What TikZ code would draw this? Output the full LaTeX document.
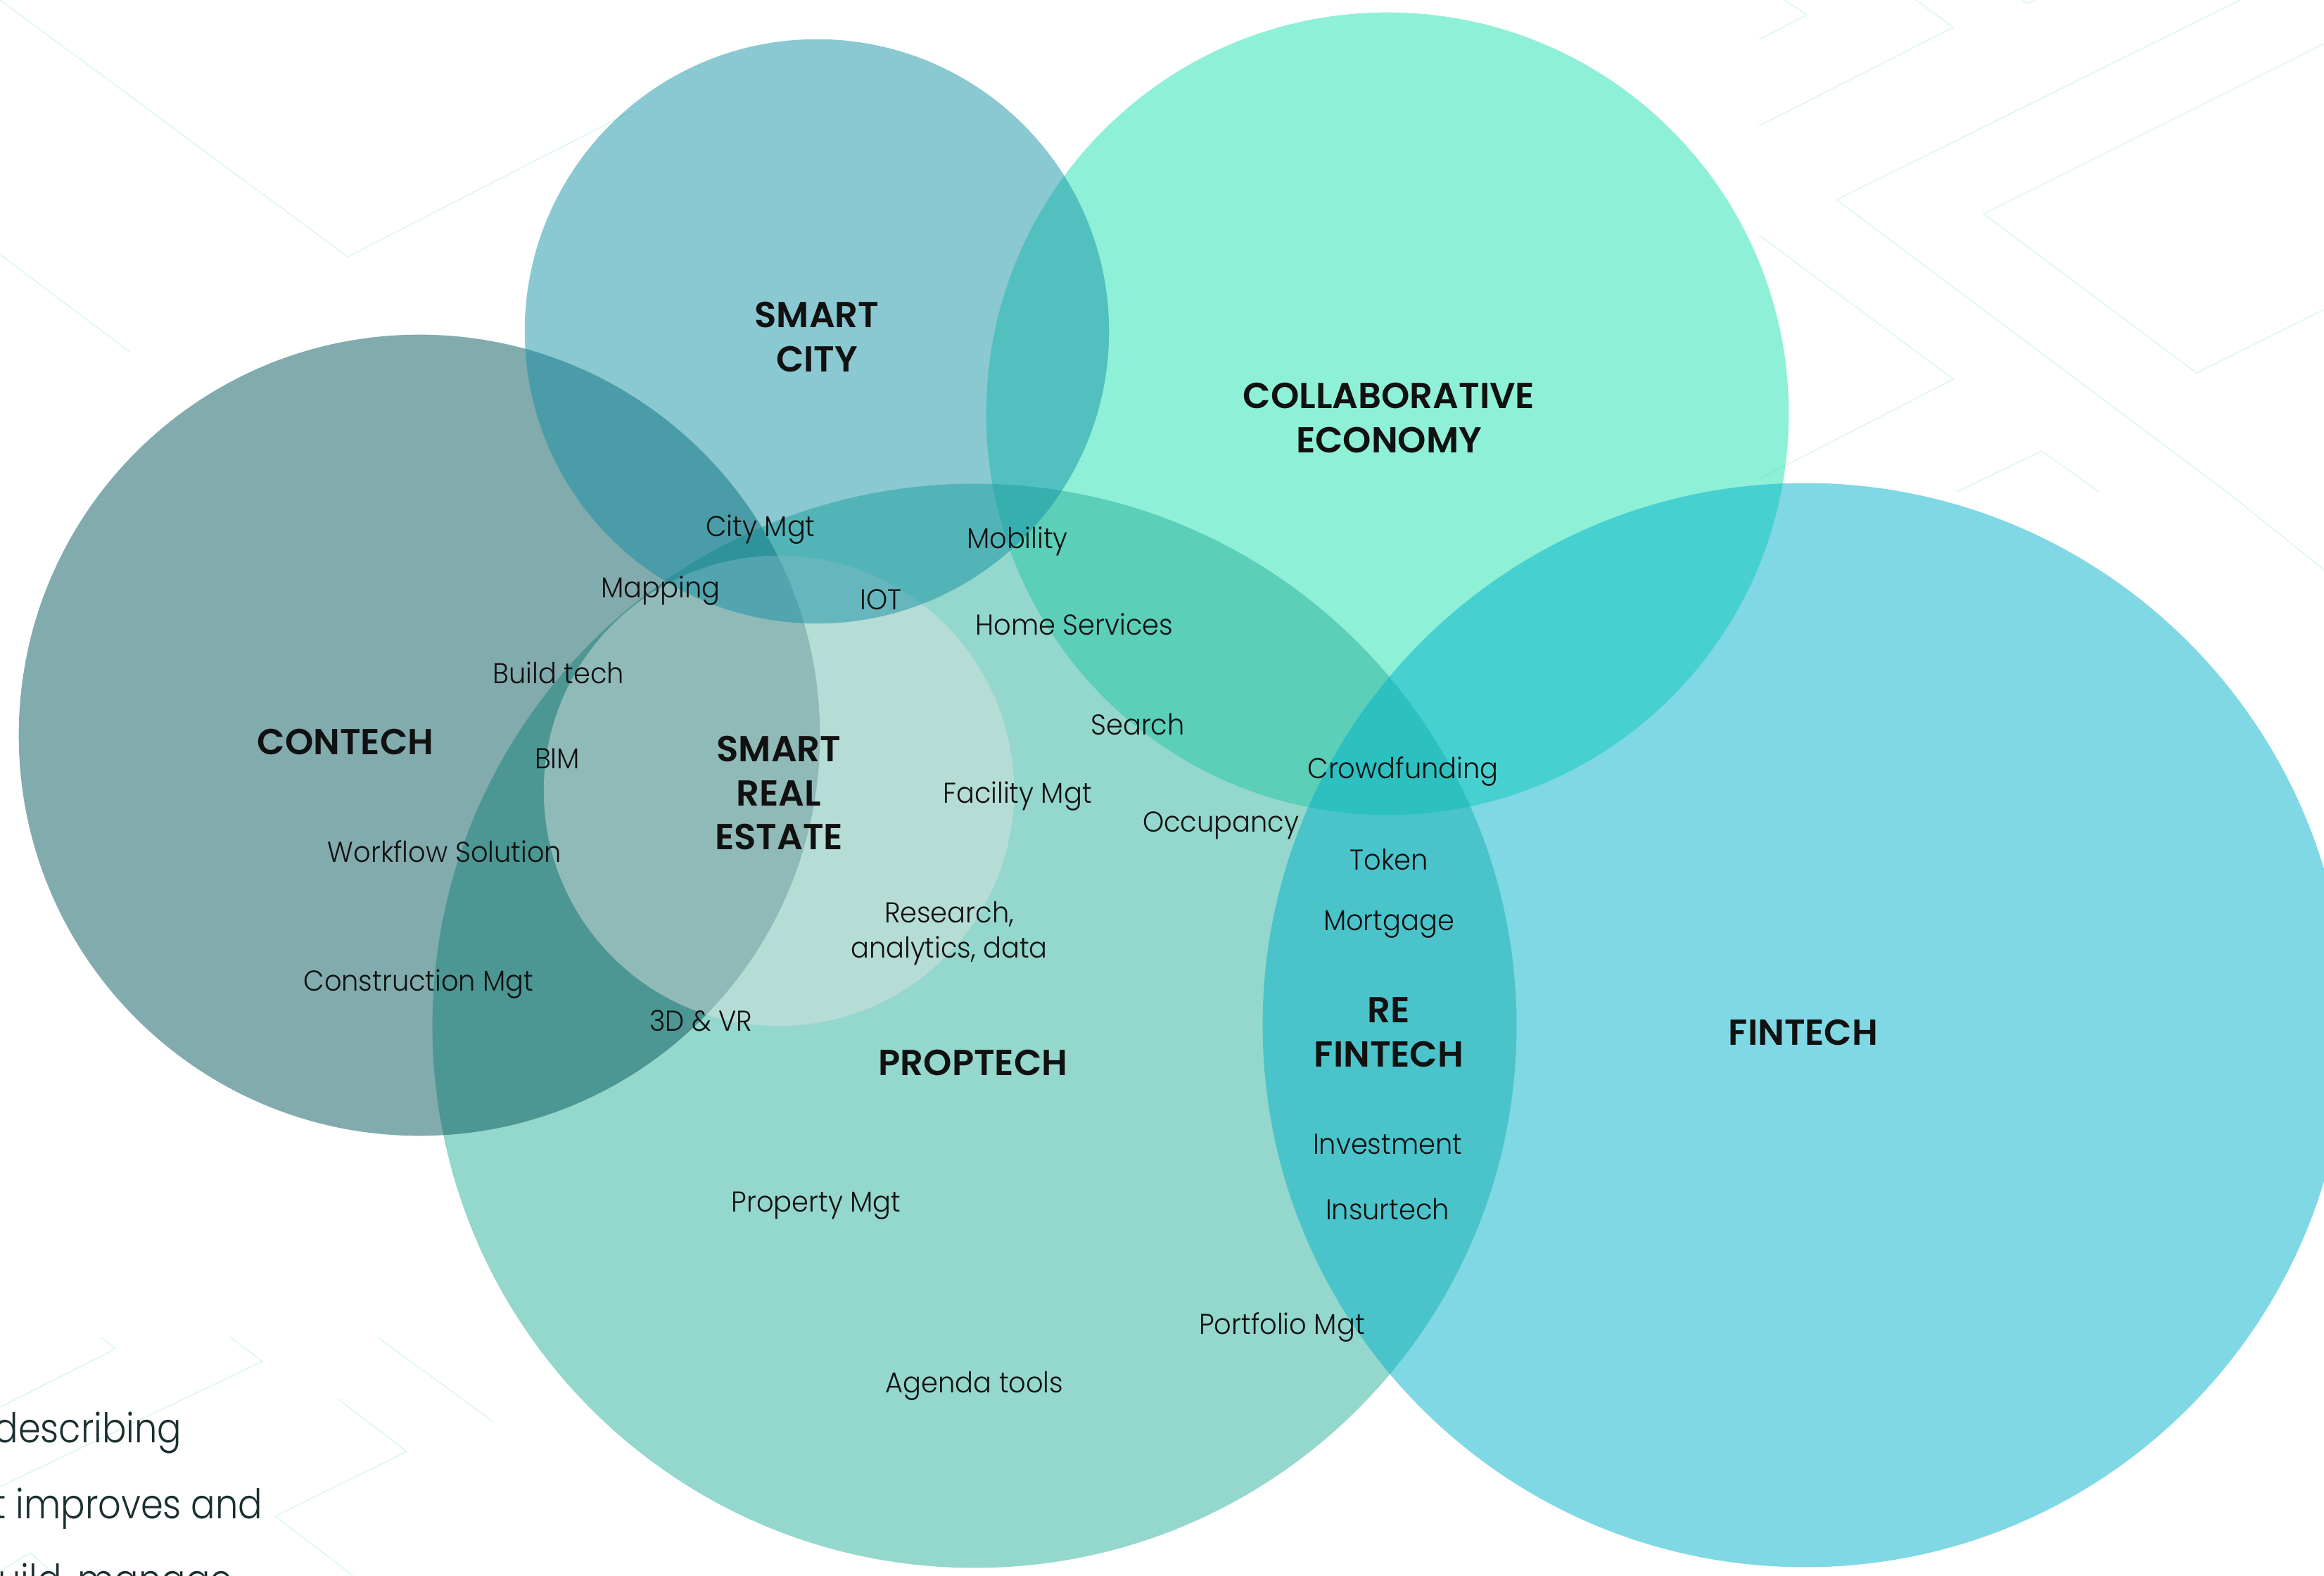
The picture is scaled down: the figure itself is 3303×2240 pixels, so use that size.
\documentclass[tikz,border=0pt]{standalone}
\usepackage{fontspec}
\setmainfont{Poppins}[UprightFont={* Light}, FakeStretch=0.94]
\newfontfamily\headfont{Poppins}[UprightFont={* SemiBold}]
\newfontfamily\bodyfont{Poppins}[UprightFont={* Light}, FakeStretch=0.88]

\definecolor{collabfill}{RGB}{31,225,177}
\definecolor{propfill}{RGB}{41,175,153}
\definecolor{contfill}{RGB}{5,87,91}
\definecolor{srefill}{RGB}{222,228,228}
\definecolor{cityfill}{RGB}{21,145,165}
\definecolor{finfill}{RGB}{1,177,201}
\definecolor{bgline}{RGB}{222,246,241}
\definecolor{ink}{RGB}{17,17,17}
\definecolor{bodyink}{RGB}{27,47,48}

\begin{document}
\begin{tikzpicture}[x=0.01cm, y=-0.01cm,
  set/.style={circle, inner sep=0pt, fill opacity=0.5},
  heading/.style={font=\headfont\fontsize{14.6}{17.9}\selectfont, align=center, text=ink},
  item/.style={font=\fontsize{11.6}{14}\selectfont, anchor=base, text=ink},
  body/.style={font=\bodyfont\fontsize{16.5}{20}\selectfont, anchor=base east, inner sep=0pt, text=bodyink},
  zig/.style={draw=bgline, line width=0.45pt}]
  \useasboundingbox (0,0) rectangle (3303,2240);
  \clip (0,0) rectangle (3303,2240);

  % faint background pattern
  \draw[zig] (0,0) -- (494,365) -- (900,157);
  \draw[zig] (0,362) -- (184,500);
  \draw[zig] (2500,56) -- (2568,21) -- (2536,0);
  \draw[zig] (2500,179) -- (2776,39) -- (2723,0);
  \draw[zig] (2874,0) -- (2881,5) -- (2892,0);
  \draw[zig] (3184,0) -- (2610,284) -- (3166,700) -- (3303,810);
  \draw[zig] (3303,62) -- (2819,304) -- (3122,530) -- (3303,440);
  \draw[zig] (2500,334) -- (2776,539) -- (2500,681);
  \draw[zig] (2779,700) -- (2902,641) -- (2984,700);
  \draw[zig] (143,1900) -- (164,1917) -- (0,2000);
  \draw[zig] (326,1900) -- (373,1935) -- (0,2113);
  \draw[zig] (536,1900) -- (700,2020);
  \draw[zig] (480,1988) -- (578,2063) -- (391,2155) -- (502,2240);
  \draw[zig] (0,2233) -- (43,2207) -- (80,2240);

  % sets
  \node[set, fill=collabfill, minimum size=11.40cm] (collab) at (1972,588) {};
  \node[set, fill=propfill, minimum size=15.40cm] (proptech) at (1385,1458) {};
  \node[set, fill=contfill, minimum size=11.38cm] (contech) at (596,1045) {};
  \node[set, fill=srefill, fill opacity=0.47, minimum size=6.68cm] (sre) at (1107,1124) {};
  \node[set, fill=cityfill, minimum size=8.30cm] (city) at (1161,471) {};
  \node[set, fill=finfill, minimum size=15.40cm] (fintech) at (2565,1457) {};

  % set titles
  \node[heading] (city_t) at (1161,479) {SMART\\CITY};
  \node[heading] (collab_t) at (1974,594) {COLLABORATIVE\\ECONOMY};
  \node[heading] (contech_t) at (491,1054) {CONTECH};
  \node[heading] (sre_t) at (1107,1127) {SMART\\REAL\\ESTATE};
  \node[heading, anchor=base] (proptech_t) at (1383,1528) {PROPTECH};
  \node[heading] (refin_t) at (1974,1467) {RE\\FINTECH};
  \node[heading, anchor=base] (fintech_t) at (2563,1485) {FINTECH};

  % items
  \node[item] (citymgt) at (1081,762) {City Mgt};
  \node[item] (mobility) at (1446,779) {Mobility};
  \node[item] (mapping) at (939,849) {Mapping};
  \node[item] (iot) at (1252,866) {IOT};
  \node[item] (home) at (1527,902) {Home Services};
  \node[item] (build) at (794,971) {Build tech};
  \node[item] (search) at (1617,1044) {Search};
  \node[item] (bim) at (792,1092) {BIM};
  \node[item] (crowd) at (1994,1106) {Crowdfunding};
  \node[item] (facility) at (1446,1141) {Facility Mgt};
  \node[item] (occupancy) at (1735,1182) {Occupancy};
  \node[item] (workflow) at (632,1225) {Workflow Solution};
  \node[item] (token) at (1974,1236) {Token};
  \node[item] (research) at (1349,1311) {Research,};
  \node[item] (analytics) at (1349,1361) {analytics, data};
  \node[item] (mortgage) at (1974,1322) {Mortgage};
  \node[item] (construction) at (595,1408) {Construction Mgt};
  \node[item] (vr) at (996,1465) {3D \& VR};
  \node[item] (investment) at (1972,1640) {Investment};
  \node[item] (property) at (1160,1722) {Property Mgt};
  \node[item] (insurtech) at (1972,1733) {Insurtech};
  \node[item] (portfolio) at (1822,1896) {Portfolio Mgt};
  \node[item] (agenda) at (1385,1979) {Agenda tools};

  % page text running under the picture
  \node[body] (line_a) at (259,2050) {describing};
  \node[body] (line_b) at (374,2158) {t improves and};
  \node[body] (line_c) at (331,2265) {uild, manage};
\end{tikzpicture}
\end{document}
